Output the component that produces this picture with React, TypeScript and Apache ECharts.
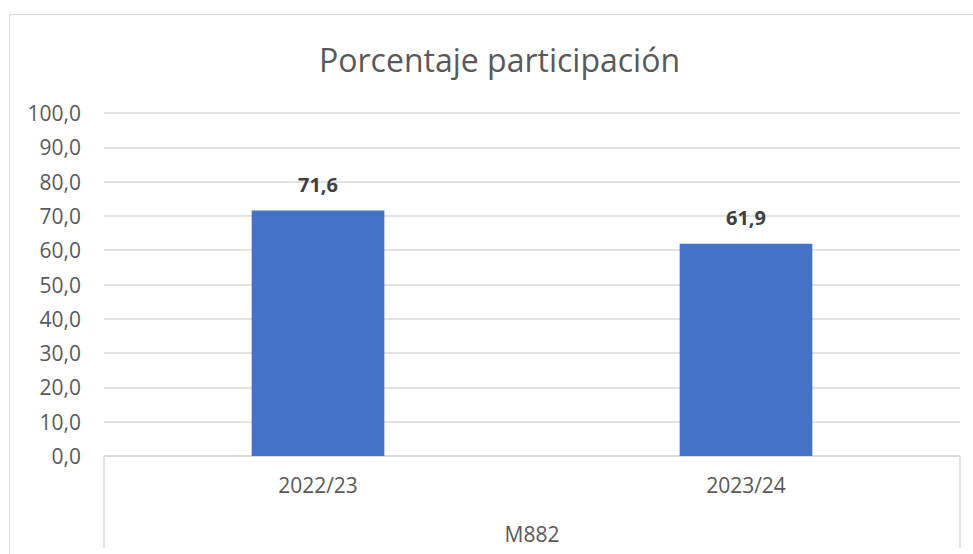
import React, { useEffect, useRef } from "react";
import * as echarts from "echarts";

const categories = ["2022/23", "2023/24"];
const groupLabel = ["M882"];
const values = [71.6, 61.9];
const titleText = "Porcentaje participación";

const fmt = (v: number) => v.toFixed(1).replace(".", ",");

export default function App() {
  const ref = useRef<HTMLDivElement>(null);
  useEffect(() => {
    if (!ref.current) return;
    const chart = echarts.init(ref.current, null, { renderer: "svg" });
    const font = "'Open Sans', sans-serif";
    chart.setOption({
      animation: false,
      backgroundColor: "#ffffff",
      graphic: [
        {
          type: "rect",
          shape: { x: 9.5, y: 14.5, width: 1000, height: 600 },
          style: { fill: "none", stroke: "#d9d9d9", lineWidth: 1 },
          silent: true,
        },
        {
          type: "text",
          x: 499.5,
          y: 59,
          style: {
            text: titleText,
            fontFamily: font,
            fontSize: 32,
            fill: "#595959",
            align: "center",
            verticalAlign: "middle",
          },
        },
      ],
      grid: { left: 104, right: 13, top: 113, bottom: 98, containLabel: false },
      xAxis: [
        {
          type: "category",
          data: categories,
          position: "bottom",
          axisLine: { show: true, lineStyle: { color: "#d9d9d9", width: 1.5 } },
          axisTick: { show: false },
          axisLabel: {
            color: "#595959",
            fontFamily: font,
            fontSize: 21,
            margin: 18,
          },
        },
        {
          type: "category",
          data: groupLabel,
          position: "bottom",
          axisLine: { show: false },
          axisTick: {
            show: true,
            inside: false,
            length: 92,
            lineStyle: { color: "#d9d9d9", width: 1.5 },
          },
          axisLabel: {
            color: "#595959",
            fontFamily: font,
            fontSize: 21,
            margin: 67,
          },
        },
      ],
      yAxis: {
        type: "value",
        min: 0,
        max: 100,
        interval: 10,
        axisLine: { show: false },
        axisTick: { show: false },
        splitLine: { lineStyle: { color: "#d9d9d9", width: 1.5 } },
        axisLabel: {
          color: "#595959",
          fontFamily: font,
          fontSize: 21,
          margin: 23,
          formatter: (v: number) => fmt(v),
        },
      },
      series: [
        {
          type: "bar",
          xAxisIndex: 0,
          data: values,
          barWidth: "31%",
          itemStyle: { color: "#4472c4" },
          label: {
            show: true,
            position: "top",
            distance: 16,
            color: "#404040",
            fontFamily: font,
            fontSize: 20,
            fontWeight: "bold",
            formatter: (p: any) => fmt(p.value),
          },
        },
      ],
    });
    return () => chart.dispose();
  }, []);
  return (
    <div
      ref={ref}
      style={{ position: "fixed", left: 0, top: 0, width: 973, height: 554 }}
    />
  );
}
